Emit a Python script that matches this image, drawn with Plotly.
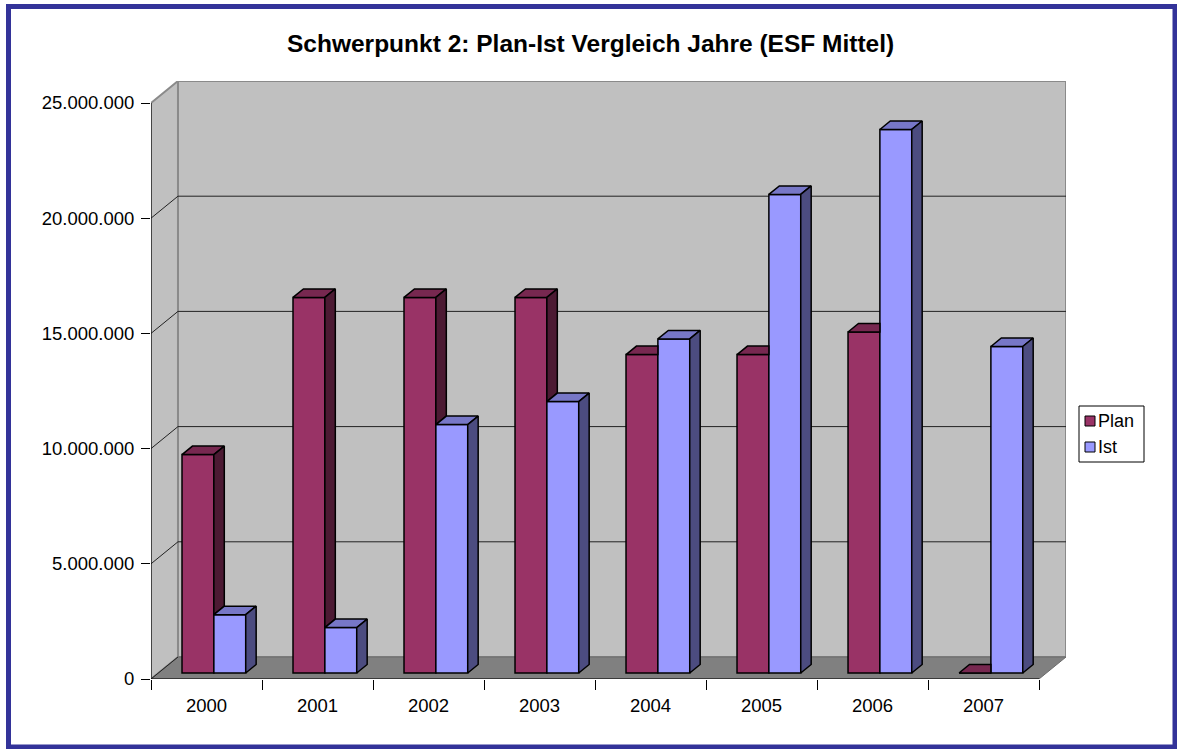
import plotly.graph_objects as go

# ---- data ----
years = ["2000", "2001", "2002", "2003", "2004", "2005", "2006", "2007"]
plan = [9480000, 16300000, 16300000, 16300000, 13820000, 13820000, 14800000, 0]
ist = [2530000, 1970000, 10780000, 11780000, 14500000, 20770000, 23590000, 14170000]
y_ticks = [0, 5000000, 10000000, 15000000, 20000000, 25000000]
title = "Schwerpunkt 2: Plan-Ist Vergleich Jahre (ESF Mittel)"

# ---- style / geometry ----
W_FIG, H_FIG = 1177, 749
YMAX = 25000000
DX = 0.243        # depth offset in category units
DY = 955000       # depth offset in value units
F1, F2 = 0.273, 0.66   # bar front / back depth fractions
BW = 0.287        # bar width
FONT = "Liberation Sans, Arial, sans-serif"

C_PLAN = ("#993366", "#772850", "#4c1a33")
C_IST = ("#9999ff", "#7777c7", "#4c4c80")

n = len(years)
idx = list(range(n))
B1, B2 = F1 * DY, F2 * DY
SX1 = F1 * DX
DDX = (F2 - F1) * DX

fig = go.Figure()

# front faces as bars
fig.add_trace(go.Bar(x=idx, y=plan, base=B1, width=BW, offset=-BW + SX1,
                     marker=dict(color=C_PLAN[0], line=dict(color="black", width=1.5)),
                     name="Plan", showlegend=False, hoverinfo="skip"))
fig.add_trace(go.Bar(x=idx, y=ist, base=B1, width=BW, offset=SX1,
                     marker=dict(color=C_IST[0], line=dict(color="black", width=1.5)),
                     name="Ist", showlegend=False, hoverinfo="skip"))


def poly_trace(xs, ys, fill):
    fig.add_trace(go.Scatter(x=xs, y=ys, mode="lines", fill="toself", fillcolor=fill,
                             line=dict(color="black", width=1.5), showlegend=False,
                             hoverinfo="skip"))


# top and side faces (clipped where hidden by the neighbouring bar)
ptx, pty, psx, psy, itx, ity, isx, isy = [], [], [], [], [], [], [], []
for i in idx:
    vp, vi = plan[i], ist[i]
    xl = i - BW + SX1
    xr = i + SX1
    if vi > vp:
        ptx += [xl, xr, xr, xl + DDX, xl, None]
        pty += [vp + B1, vp + B1, vp + B2, vp + B2, vp + B1, None]
    else:
        ptx += [xl, xr, xr + DDX, xl + DDX, xl, None]
        pty += [vp + B1, vp + B1, vp + B2, vp + B2, vp + B1, None]
        psx += [xr, xr, xr + DDX, xr + DDX, xr, None]
        psy += [vi + B1, vp + B1, vp + B2, vi + B2, vi + B1, None]
    xl2 = xr
    xr2 = xr + BW
    itx += [xl2, xr2, xr2 + DDX, xl2 + DDX, xl2, None]
    ity += [vi + B1, vi + B1, vi + B2, vi + B2, vi + B1, None]
    isx += [xr2, xr2, xr2 + DDX, xr2 + DDX, xr2, None]
    isy += [B1, vi + B1, vi + B2, B2, B1, None]

poly_trace(ptx, pty, C_PLAN[1])
poly_trace(psx, psy, C_PLAN[2])
poly_trace(itx, ity, C_IST[1])
poly_trace(isx, isy, C_IST[2])

shapes = []
x0, x1 = -0.5, n - 0.5
# back wall
shapes.append(dict(type="rect", xref="x", yref="y", x0=x0 + DX, x1=x1 + DX, y0=DY, y1=YMAX + DY,
                   fillcolor="#c0c0c0", line=dict(color="#8a8a8a", width=2), layer="below"))
# side wall
shapes.append(dict(type="path", xref="x", yref="y",
                   path=f"M {x0},0 L {x0},{YMAX} L {x0 + DX},{YMAX + DY} L {x0 + DX},{DY} Z",
                   fillcolor="#c0c0c0", line=dict(color="#8a8a8a", width=2), layer="below"))
# floor
shapes.append(dict(type="path", xref="x", yref="y",
                   path=f"M {x0},0 L {x1},0 L {x1 + DX},{DY} L {x0 + DX},{DY} Z",
                   fillcolor="#808080", line=dict(color="#6a6a6a", width=1), layer="below"))
# gridlines
for v in y_ticks:
    if 0 < v < YMAX:
        shapes.append(dict(type="line", xref="x", yref="y", x0=x0 + DX, x1=x1 + DX, y0=v + DY, y1=v + DY,
                           line=dict(color="#222222", width=1), layer="below"))
    if v < YMAX:
        shapes.append(dict(type="line", xref="x", yref="y", x0=x0, x1=x0 + DX, y0=v, y1=v + DY,
                           line=dict(color="#222222", width=1), layer="below"))
# axis lines
shapes.append(dict(type="line", xref="x", yref="y", x0=x0, x1=x0, y0=0, y1=YMAX,
                   line=dict(color="black", width=1)))
shapes.append(dict(type="line", xref="x", yref="y", x0=x0, x1=x1, y0=0, y1=0,
                   line=dict(color="black", width=1)))
# outer frame
shapes.append(dict(type="rect", xref="paper", yref="paper",
                   x0=8.5 / W_FIG, x1=1175 / W_FIG, y0=2 / H_FIG, y1=(H_FIG - 6.5) / H_FIG,
                   line=dict(color="#333399", width=5), fillcolor="rgba(0,0,0,0)"))

# manual legend
LX0, LX1, LY0, LY1 = 1079, 1144, 406, 462
shapes.append(dict(type="rect", xref="paper", yref="paper",
                   x0=LX0 / W_FIG, x1=LX1 / W_FIG, y0=(H_FIG - LY1) / H_FIG, y1=(H_FIG - LY0) / H_FIG,
                   line=dict(color="black", width=1), fillcolor="white"))
annotations = []
for k, (nm, col) in enumerate([("Plan", C_PLAN[0]), ("Ist", C_IST[0])]):
    cy = 421 + 26 * k
    shapes.append(dict(type="rect", xref="paper", yref="paper",
                       x0=1085 / W_FIG, x1=1095 / W_FIG, y0=(H_FIG - cy - 5) / H_FIG, y1=(H_FIG - cy + 5) / H_FIG,
                       line=dict(color="black", width=1), fillcolor=col))
    annotations.append(dict(text=nm, xref="paper", yref="paper", x=1096 / W_FIG, y=(H_FIG - cy) / H_FIG,
                            xanchor="left", yanchor="middle", showarrow=False,
                            font=dict(family=FONT, size=18, color="black")))

annotations.append(dict(text="<b>" + title + "</b>", xref="paper", yref="paper",
                        x=590 / W_FIG, y=(H_FIG - 43) / H_FIG, xanchor="center", yanchor="middle",
                        showarrow=False, font=dict(family=FONT, size=24.5, color="black")))

fig.update_layout(
    width=W_FIG, height=H_FIG, autosize=False,
    margin=dict(l=0, r=0, t=0, b=0, pad=0),
    paper_bgcolor="white", plot_bgcolor="white",
    barmode="overlay", separators=",.",
    showlegend=False,
    shapes=shapes, annotations=annotations,
    xaxis=dict(domain=[151 / W_FIG, 1066 / W_FIG], range=[x0, x1 + DX], automargin=False,
               tickmode="array", tickvals=idx, ticktext=years,
               ticks="outside", ticklen=10, tickcolor="rgba(0,0,0,0)", ticklabelstandoff=0,
               minor=dict(tickmode="array", tickvals=[i - 0.5 for i in range(n + 1)],
                          ticks="outside", ticklen=10, tickcolor="black", tickwidth=1),
               showgrid=False, zeroline=False, showline=False,
               tickfont=dict(family=FONT, size=18.5, color="black"), fixedrange=True),
    yaxis=dict(domain=[70 / H_FIG, 668 / H_FIG], range=[0, YMAX + DY], automargin=False,
               tickmode="array", tickvals=y_ticks, tickformat=",d",
               ticks="outside", ticklen=9, tickcolor="black", tickwidth=1, ticklabelstandoff=3,
               showgrid=False, zeroline=False, showline=False,
               tickfont=dict(family=FONT, size=18.5, color="black"), fixedrange=True),
)

fig.write_html(
    "out.html",
    config={"displayModeBar": False, "staticPlot": True},
    post_script="document.body.style.margin='0';document.body.style.overflow='hidden';",
)
